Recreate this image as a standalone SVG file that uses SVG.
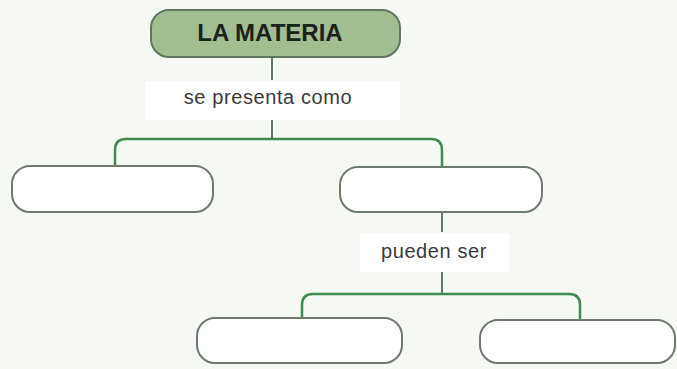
<svg xmlns="http://www.w3.org/2000/svg" width="677" height="369" viewBox="0 0 677 369">
<style>
.box{fill:#ffffff;stroke:#6f7a6f;stroke-width:2}
.top{fill:#a2bd92;stroke:#5e7560;stroke-width:2}
.lbl{fill:#ffffff}
.con{fill:none;stroke:#3f8a50;stroke-width:2.5}
.stem{fill:none;stroke:#4f6a55;stroke-width:1.8}
text{font-family:"Liberation Sans",Arial,sans-serif;fill:#3a3a3a}
text.title{fill:#1a221a;font-weight:bold}
</style>
<rect width="677" height="369" fill="#f5f8f3"/>
<g id="connectors">
<path class="stem" d="M272 57V80M272 120V139"/>
<path class="con" d="M115 165V150Q115 139 126 139H431Q442 139 442 150V167"/>
<path class="stem" d="M442 212V232M442 272V294"/>
<path class="con" d="M302 317V305Q302 294 313 294H569Q580 294 580 305V319"/>
</g>
<g id="label1"><rect class="lbl" x="145" y="81" width="255" height="39"/><text x="268" y="104" font-size="20" letter-spacing="0.6" text-anchor="middle">se presenta como</text></g>
<g id="label2"><rect class="lbl" x="360" y="233" width="150" height="39"/><text x="434" y="258" font-size="20" letter-spacing="0.6" text-anchor="middle">pueden ser</text></g>
<g id="materia"><rect class="top" x="151" y="10" width="249" height="47" rx="18"/><text class="title" x="270" y="41" font-size="24" text-anchor="middle">LA MATERIA</text></g>
<g id="nodeL"><rect class="box" x="12" y="166" width="201" height="46" rx="18"/></g>
<g id="nodeR"><rect class="box" x="340" y="167" width="202" height="45" rx="18"/></g>
<g id="nodeBL"><rect class="box" x="197" y="318" width="205" height="45" rx="18"/></g>
<g id="nodeBR"><rect class="box" x="480" y="320" width="195" height="43" rx="18"/></g>
</svg>
